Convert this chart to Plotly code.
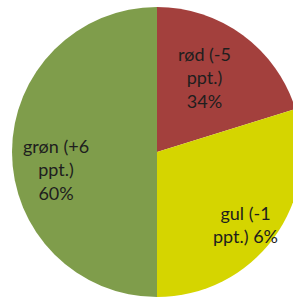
import plotly.graph_objects as go

categories = ["rød", "gul", "grøn"]
slice_values = [20.2, 29.8, 50.0]
label_texts = ["rød (-5<br>ppt.)<br>34%", "gul (-1<br>ppt.) 6%", "grøn (+6<br>ppt.)<br>60%"]
colors = ["#A3403D", "#D5D500", "#7F9D4B"]

fig = go.Figure(go.Pie(
    labels=categories,
    values=slice_values,
    sort=False,
    direction="clockwise",
    rotation=0,
    marker=dict(colors=colors, line=dict(width=0)),
    textinfo="none",
    hoverinfo="none",
    showlegend=False,
))

W, H = 314, 299
ml, mr, mt, mb = 12, 12, 7, 2
label_pos = [(204, 78), (245, 224), (56, 169)]

ann = []
for (px, py), t in zip(label_pos, label_texts):
    ann.append(dict(
        x=(px - ml) / (W - ml - mr), y=1 - (py - mt) / (H - mt - mb),
        xref="paper", yref="paper", xanchor="center", yanchor="middle",
        text=t, showarrow=False, align="center",
        font=dict(family="Lato", size=18, color="#1e1e1e"),
    ))

fig.update_layout(
    width=W, height=H,
    margin=dict(l=ml, r=mr, t=mt, b=mb),
    paper_bgcolor="white", plot_bgcolor="white",
    annotations=ann,
)

fig.write_html(
    "out.html",
    config={"displayModeBar": False},
    post_script="document.body.style.margin='0';document.body.style.overflow='hidden';",
)
